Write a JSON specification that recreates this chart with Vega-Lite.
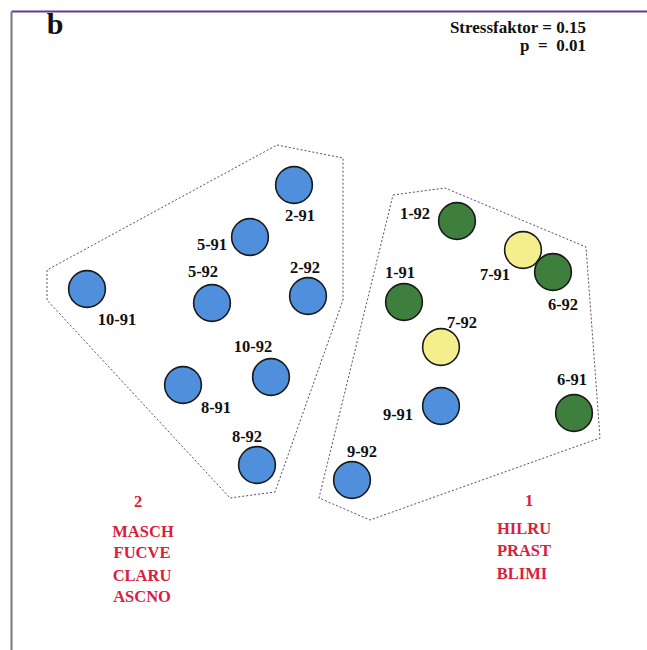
{
  "$schema": "https://vega.github.io/schema/vega-lite/v6.json",
  "width": 636,
  "height": 639,
  "padding": {"left": 11, "top": 11, "right": 0, "bottom": 0},
  "autosize": {"type": "none"},
  "background": "white",
  "config": {"view": {"stroke": null}},
  "datasets": {
    "samples": [
      {"name": "2-91", "x": 294, "y": 185, "typ": "blau", "lx": 300, "ly": 216},
      {"name": "5-91", "x": 250, "y": 237, "typ": "blau", "lx": 212, "ly": 245},
      {"name": "10-91", "x": 87, "y": 289, "typ": "blau", "lx": 117, "ly": 320},
      {"name": "5-92", "x": 212, "y": 303, "typ": "blau", "lx": 203, "ly": 272},
      {"name": "2-92", "x": 308, "y": 296, "typ": "blau", "lx": 305, "ly": 268},
      {"name": "10-92", "x": 271, "y": 377, "typ": "blau", "lx": 253, "ly": 347},
      {"name": "8-91", "x": 183, "y": 385, "typ": "blau", "lx": 216, "ly": 408},
      {"name": "8-92", "x": 257, "y": 465, "typ": "blau", "lx": 247, "ly": 437},
      {"name": "1-92", "x": 457, "y": 221, "typ": "grün", "lx": 415, "ly": 214},
      {"name": "7-91", "x": 523, "y": 250, "typ": "gelb", "lx": 495, "ly": 275},
      {"name": "6-92", "x": 553, "y": 272, "typ": "grün", "lx": 563, "ly": 305},
      {"name": "1-91", "x": 404, "y": 302, "typ": "grün", "lx": 400, "ly": 273},
      {"name": "7-92", "x": 441, "y": 347, "typ": "gelb", "lx": 462, "ly": 323},
      {"name": "6-91", "x": 574, "y": 413, "typ": "grün", "lx": 572, "ly": 380},
      {"name": "9-91", "x": 441, "y": 406, "typ": "blau", "lx": 398, "ly": 415},
      {"name": "9-92", "x": 352, "y": 480, "typ": "blau", "lx": 362, "ly": 452}
    ],
    "hulls": [
      {"grp": "2", "o": 1, "x": 277, "y": 145},
      {"grp": "2", "o": 2, "x": 343, "y": 158},
      {"grp": "2", "o": 3, "x": 343, "y": 300},
      {"grp": "2", "o": 4, "x": 275, "y": 492},
      {"grp": "2", "o": 5, "x": 230, "y": 498},
      {"grp": "2", "o": 6, "x": 47, "y": 300},
      {"grp": "2", "o": 7, "x": 47, "y": 270},
      {"grp": "2", "o": 8, "x": 277, "y": 145},
      {"grp": "1", "o": 1, "x": 393, "y": 195},
      {"grp": "1", "o": 2, "x": 445, "y": 188},
      {"grp": "1", "o": 3, "x": 586, "y": 247},
      {"grp": "1", "o": 4, "x": 600, "y": 438},
      {"grp": "1", "o": 5, "x": 370, "y": 520},
      {"grp": "1", "o": 6, "x": 319, "y": 498},
      {"grp": "1", "o": 7, "x": 393, "y": 195}
    ],
    "groupText": [
      {"t": "2", "x": 138, "y": 502},
      {"t": "MASCH", "x": 143, "y": 532},
      {"t": "FUCVE", "x": 142, "y": 553},
      {"t": "CLARU", "x": 142, "y": 576},
      {"t": "ASCNO", "x": 142, "y": 597},
      {"t": "1", "x": 529, "y": 501},
      {"t": "HILRU", "x": 524, "y": 529},
      {"t": "PRAST", "x": 524, "y": 551},
      {"t": "BLIMI", "x": 522, "y": 574}
    ],
    "stats": [
      {"t": "Stressfaktor = 0.15", "x": 586, "y": 28},
      {"t": "p\u00a0\u00a0=\u00a0\u00a00.01", "x": 586, "y": 46}
    ],
    "panel": [
      {"t": "b", "x": 55, "y": 25}
    ]
  },
  "layer": [
    {
      "data": {"name": "hulls"},
      "mark": {"type": "line", "strokeDash": [2, 2], "strokeWidth": 1, "color": "#5a4a6e"},
      "encoding": {
        "x": {"field": "x", "type": "quantitative", "scale": {"domain": [11, 647], "nice": false, "zero": false}, "axis": {"orient": "top", "domain": true, "domainColor": "#5b3f8f", "domainWidth": 2, "ticks": false, "labels": false, "grid": false, "title": null}},
        "y": {"field": "y", "type": "quantitative", "scale": {"domain": [11, 650], "reverse": true, "nice": false, "zero": false}, "axis": {"orient": "left", "domain": true, "domainColor": "#777777", "domainWidth": 2, "ticks": false, "labels": false, "grid": false, "title": null}},
        "detail": {"field": "grp"},
        "order": {"field": "o", "type": "quantitative"}
      }
    },
    {
      "data": {"name": "samples"},
      "mark": {"type": "point", "shape": "circle", "filled": true, "size": 1350, "stroke": "#1a1a1a", "strokeWidth": 1.6, "opacity": 1},
      "encoding": {
        "x": {"field": "x", "type": "quantitative"},
        "y": {"field": "y", "type": "quantitative"},
        "fill": {"field": "typ", "type": "nominal", "scale": {"domain": ["blau", "grün", "gelb"], "range": ["#4f8fdc", "#3f7f3d", "#f4ef8c"]}, "legend": null}
      }
    },
    {
      "data": {"name": "samples"},
      "mark": {"type": "text", "font": "Liberation Serif", "fontWeight": "bold", "fontSize": 16.5, "color": "#111111", "baseline": "middle", "align": "center"},
      "encoding": {
        "x": {"field": "lx", "type": "quantitative"},
        "y": {"field": "ly", "type": "quantitative"},
        "text": {"field": "name"}
      }
    },
    {
      "data": {"name": "groupText"},
      "mark": {"type": "text", "font": "Liberation Serif", "fontWeight": "bold", "fontSize": 16.5, "color": "#d8203c", "baseline": "middle", "align": "center"},
      "encoding": {
        "x": {"field": "x", "type": "quantitative"},
        "y": {"field": "y", "type": "quantitative"},
        "text": {"field": "t"}
      }
    },
    {
      "data": {"name": "stats"},
      "mark": {"type": "text", "font": "Liberation Serif", "fontWeight": "bold", "fontSize": 17, "color": "#111111", "baseline": "middle", "align": "right"},
      "encoding": {
        "x": {"field": "x", "type": "quantitative"},
        "y": {"field": "y", "type": "quantitative"},
        "text": {"field": "t"}
      }
    },
    {
      "data": {"name": "panel"},
      "mark": {"type": "text", "font": "Liberation Serif", "fontWeight": "bold", "fontSize": 30, "color": "#111111", "baseline": "middle", "align": "center"},
      "encoding": {
        "x": {"field": "x", "type": "quantitative"},
        "y": {"field": "y", "type": "quantitative"},
        "text": {"field": "t"}
      }
    }
  ]
}
